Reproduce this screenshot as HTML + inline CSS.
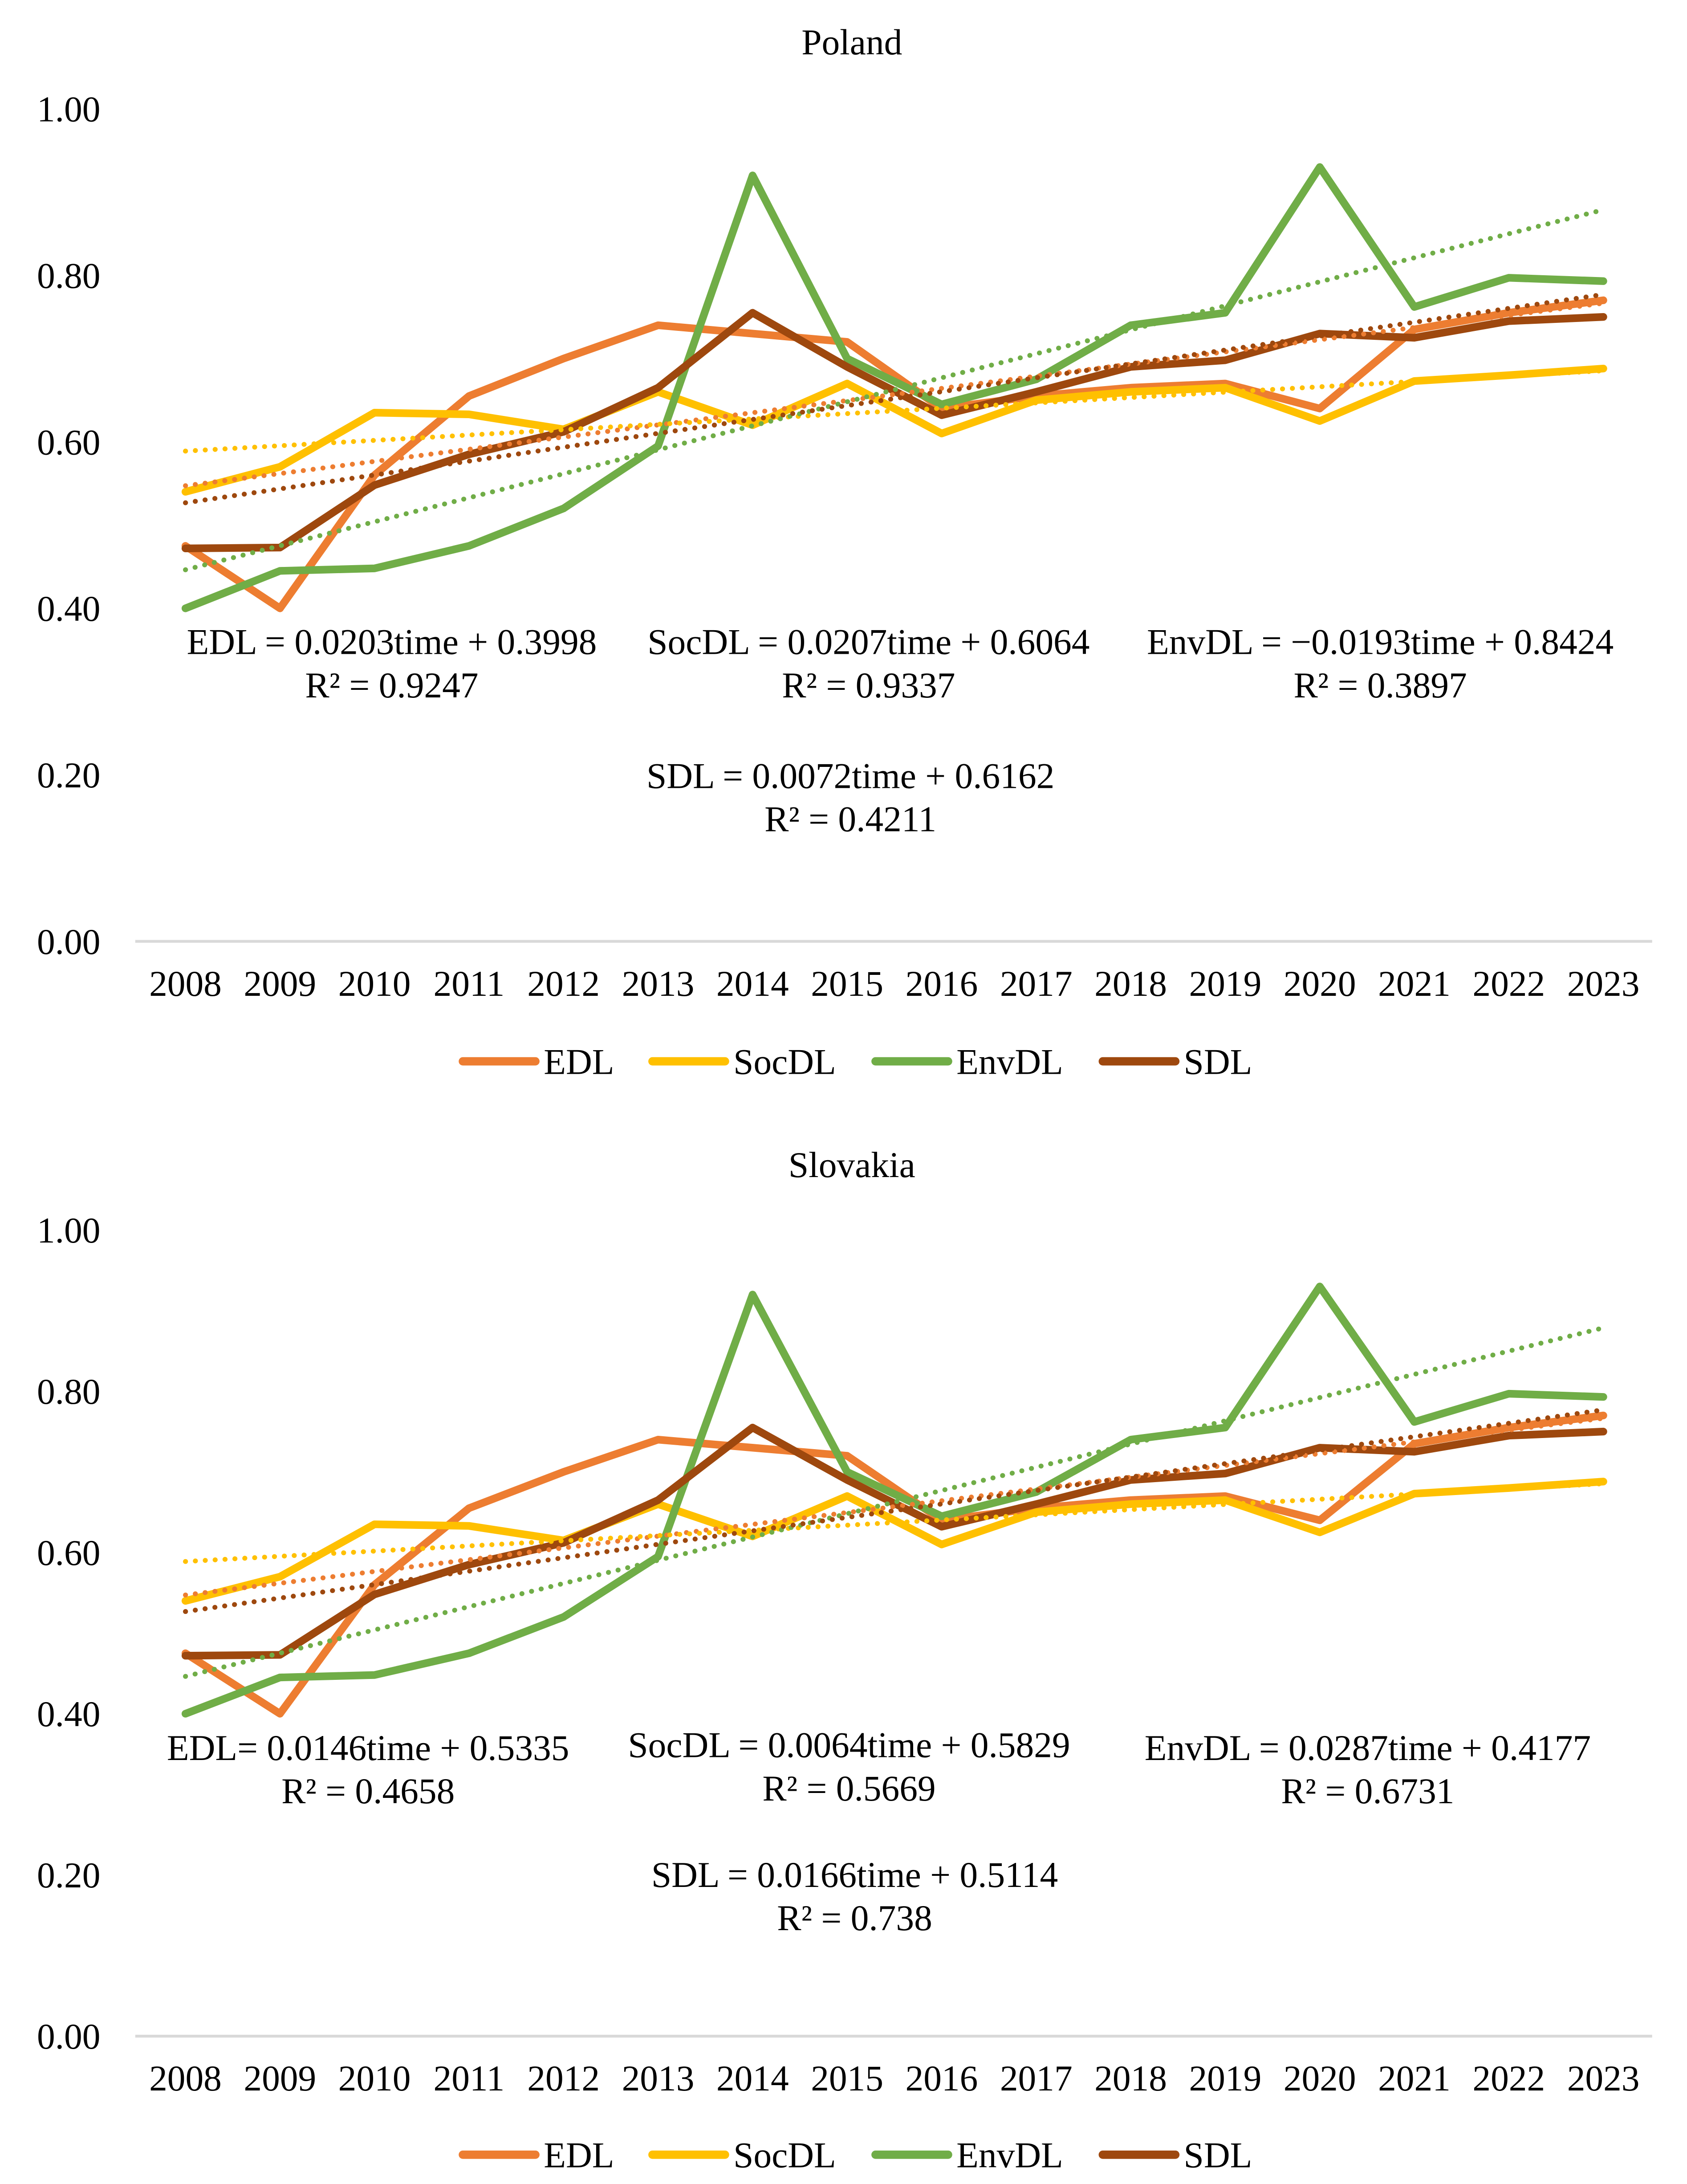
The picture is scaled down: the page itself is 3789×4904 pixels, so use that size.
<!DOCTYPE html>
<html><head><meta charset="utf-8"><style>
html,body{margin:0;padding:0;background:#fff}
svg{display:block}
text{font-family:"Liberation Serif",serif;fill:#000}
</style></head><body>
<svg id="chart" width="3789" height="4904" viewBox="0 0 1210 1566" preserveAspectRatio="none"></svg>
<script>
const years=[2008,2009,2010,2011,2012,2013,2014,2015,2016,2017,2018,2019,2020,2021,2022,2023];
const yTicks=[0,0.2,0.4,0.6,0.8,1.0];
const seriesNames=["EDL","SocDL","EnvDL","SDL"];
const edl=[0.475,0.40,0.56,0.655,0.70,0.74,0.73,0.72,0.64,0.655,0.665,0.67,0.64,0.735,0.755,0.77];
const socdl=[0.54,0.57,0.635,0.633,0.615,0.66,0.62,0.67,0.61,0.65,0.66,0.665,0.625,0.673,0.68,0.688];
const envdl=[0.40,0.445,0.448,0.475,0.52,0.595,0.92,0.70,0.645,0.675,0.74,0.755,0.93,0.762,0.797,0.793];
const sdl=[0.472,0.473,0.548,0.585,0.612,0.665,0.755,0.69,0.632,0.66,0.69,0.698,0.73,0.725,0.745,0.75];
const colors=["#ED7D31","#FFC000","#70AD47","#9E480E"];
const panels=[
 {title:"Poland",top:78,bottom:675,titleY:39,tickY:714,legY:761,
  eq:[["EDL = 0.0203time + 0.3998","R² = 0.9247",281,469],["SocDL = 0.0207time + 0.6064","R² = 0.9337",623,469],["EnvDL = −0.0193time + 0.8424","R² = 0.3897",990,469],["SDL = 0.0072time + 0.6162","R² = 0.4211",610,565]]},
 {title:"Slovakia",top:882,bottom:1460,titleY:844,tickY:1499,legY:1545,
  eq:[["EDL= 0.0146time + 0.5335","R² = 0.4658",264,1262],["SocDL = 0.0064time + 0.5829","R² = 0.5669",609,1260],["EnvDL = 0.0287time + 0.4177","R² = 0.6731",981,1262],["SDL = 0.0166time + 0.5114","R² = 0.738",613,1353]]}
];
const NS="http://www.w3.org/2000/svg";
const svg=document.getElementById('chart');
function mk(tag,at,parent){const e=document.createElementNS(NS,tag);for(const k in at)e.setAttribute(k,at[k]);(parent||svg).appendChild(e);return e;}
const xScale=i=>133+i*(1150-133)/15;
function fit(v){const n=v.length;let sx=0,sy=0,sxx=0,sxy=0;v.forEach((y,i)=>{sx+=i;sy+=y;sxx+=i*i;sxy+=i*y;});const b=(n*sxy-sx*sy)/(n*sxx-sx*sx);return [b,(sy-b*sx)/n];}
const all=[edl,socdl,envdl,sdl];
const FS=26;
panels.forEach((p,pi)=>{
 const g=mk('g',{});
 
 
 const yS=v=>p.bottom-(p.bottom-p.top)*v;
 const t=mk('text',{x:611,y:p.titleY,'text-anchor':'middle','font-size':FS},g);t.textContent=p.title;
 
 yTicks.forEach(v=>{const tx=mk('text',{x:72,y:yS(v)+9,'text-anchor':'end','font-size':FS},g);tx.textContent=v.toFixed(2);
  });
 const ax=mk('line',{x1:97,x2:1185,y1:yS(0),y2:yS(0),stroke:'#d9d9d9','stroke-width':2},g);
 
 years.forEach((yr,i)=>{const tx=mk('text',{x:xScale(i),y:p.tickY,'text-anchor':'middle','font-size':FS},g);tx.textContent=yr;
  });
 all.forEach((s,si)=>{
  const pts=s.map((v,i)=>xScale(i)+','+yS(v)).join(' ');
  const l=mk('polyline',{points:pts,fill:'none',stroke:colors[si],'stroke-width':5.5,'stroke-linejoin':'round','stroke-linecap':'round'},g);
  
 });
 all.forEach((s,si)=>{
  const [b,a]=fit(s);
  const tl=mk('line',{x1:xScale(0),y1:yS(a),x2:xScale(15),y2:yS(a+15*b),stroke:colors[si],'stroke-width':3.5,'stroke-dasharray':'0.1 7','stroke-linecap':'round'},g);
  
 });
 p.eq.forEach(e=>{
  const t1=mk('text',{x:e[2],y:e[3],'text-anchor':'middle','font-size':FS},g);t1.textContent=e[0];
  
  const t2=mk('text',{x:e[2],y:e[3]+31,'text-anchor':'middle','font-size':FS},g);t2.textContent=e[1];
  
 });
 const lx=[330,466,626,789];
 seriesNames.forEach((n,si)=>{
  const lg=mk('g',{},g);
  
  mk('line',{x1:lx[si]+2,x2:lx[si]+54,y1:p.legY,y2:p.legY,stroke:colors[si],'stroke-width':6,'stroke-linecap':'round'},lg);
  const tx=mk('text',{x:lx[si]+60,y:p.legY+9,'font-size':FS},lg);tx.textContent=n;
 });
});
</script>
</body></html>
